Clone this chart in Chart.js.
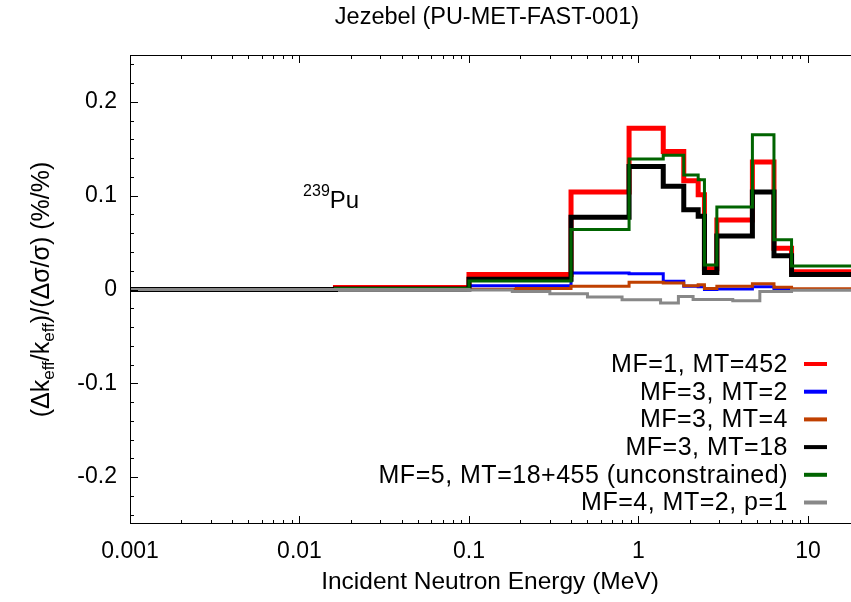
<!DOCTYPE html>
<html><head><meta charset="utf-8">
<script src="https://cdn.jsdelivr.net/npm/chart.js@4/dist/chart.umd.min.js"></script>
<style>html,body{margin:0;padding:0;background:#fff;overflow:hidden;width:851px;height:602px}canvas{display:block}</style>
</head><body>
<canvas id="c" width="860" height="602"></canvas>
<script>
// ---- data ----
const titleText = 'Jezebel (PU-MET-FAST-001)';
const xTitle = 'Incident Neutron Energy (MeV)';
const xTickValues = [0.001, 0.01, 0.1, 1, 10];
const xTickLabels = ['0.001', '0.01', '0.1', '1', '10'];
const yTickValues = [-0.2, -0.1, 0, 0.1, 0.2];
const yTickLabels = ['-0.2', '-0.1', '0', '0.1', '0.2'];

// energy group boundaries (MeV)
const groupEdges = [0.0001, 0.0163, 0.1, 0.19, 0.4, 0.88, 1.4, 1.85, 2.25, 2.45, 2.9, 4.7, 6.3, 8, 20];
const mt452 = [0, 0.002, 0.016, 0.016, 0.104, 0.172, 0.147, 0.116, 0.101, 0.022, 0.074, 0.136, 0.044, 0.019];
const mt2   = [0, 0.0003, 0.004, 0.004, 0.0177, 0.0167, 0.0088, 0.0035, 0.003, 0, 0.0005, 0.003, 0.0005, 0];
const mt4   = [0, 0.0003, 0.0003, 0.001, 0.0035, 0.0078, 0.007, 0.004, 0.005, 0.001, 0.0035, 0.006, 0.0025, 0.0008];
const mt18  = [0, 0.0005, 0.011, 0.011, 0.077, 0.131, 0.110, 0.085, 0.078, 0.018, 0.057, 0.104, 0.036, 0.016];
const mf5   = [0, 0.001, 0.009, 0.009, 0.064, 0.139, 0.143, 0.122, 0.117, 0.026, 0.088, 0.165, 0.053, 0.025];
const mf4Edges = [0.0001, 0.0163, 0.1, 0.18, 0.3, 0.5, 0.8, 1.35, 1.72, 2.1, 3.6, 5.2, 8, 20];
const mf4   = [0, 0, -0.0005, -0.002, -0.0045, -0.008, -0.011, -0.0145, -0.0075, -0.0106, -0.012, -0.002, -0.0008];

const seriesNames = ['MF=1, MT=452', 'MF=3, MT=2', 'MF=3, MT=4', 'MF=3, MT=18', 'MF=5, MT=18+455 (unconstrained)', 'MF=4, MT=2, p=1'];
const seriesColors = ['#ff0000', '#0000ff', '#c04000', '#000000', '#006400', '#888888'];
const seriesWidths = [5, 3, 3, 5, 3, 3];

const nuclideMass = '239';
const nuclideSym = 'Pu';
const nuclideAtE = 0.0105, nuclideAtV = 0.087;

const FONT = '"Liberation Sans", Arial, Helvetica, sans-serif';
const FS = 23;

function stepPoints(edges, vals) {
  const pts = vals.map((v, i) => ({x: edges[i], y: v}));
  pts.push({x: edges[edges.length - 1], y: vals[vals.length - 1]});
  return pts;
}
const seriesData = [
  stepPoints(groupEdges, mt452),
  stepPoints(groupEdges, mt2),
  stepPoints(groupEdges, mt4),
  stepPoints(groupEdges, mt18),
  stepPoints(groupEdges, mf5),
  stepPoints(mf4Edges, mf4)
];

const datasets = seriesData.map((d, i) => ({
  label: seriesNames[i],
  data: d,
  borderColor: seriesColors[i],
  backgroundColor: seriesColors[i],
  borderWidth: seriesWidths[i],
  stepped: 'before',
  pointRadius: 0,
  tension: 0,
  fill: false,
  clip: 0,
  borderJoinStyle: 'miter',
  borderCapStyle: 'butt',
  order: seriesNames.length - i
}));

const decorations = {
  id: 'decorations',
  afterDraw(chart) {
    const {ctx, chartArea: a, scales: {x, y}} = chart;
    ctx.save();
    ctx.strokeStyle = '#000';
    ctx.lineWidth = 1;
    ctx.strokeRect(a.left + 0.5, a.top + 0.5, a.right - a.left - 1, a.bottom - a.top - 1);
    ctx.beginPath();
    for (let d = -3; d <= 1; d++) {
      for (let m = 1; m <= 9; m++) {
        const v = m * Math.pow(10, d);
        if (v < x.min || v > x.max) continue;
        const px = Math.round(x.getPixelForValue(v)) + 0.5;
        const len = m === 1 ? 8 : 4;
        ctx.moveTo(px, a.bottom); ctx.lineTo(px, a.bottom - len);
        ctx.moveTo(px, a.top); ctx.lineTo(px, a.top + len);
      }
    }
    for (let k = -12; k <= 12; k++) {
      const v = k * 0.02;
      const py = Math.round(y.getPixelForValue(v)) + 0.5;
      const len = (k % 5 === 0) ? 8 : 4;
      ctx.moveTo(a.left, py); ctx.lineTo(a.left + len, py);
      ctx.moveTo(a.right, py); ctx.lineTo(a.right - len, py);
    }
    ctx.stroke();

    ctx.fillStyle = '#000';
    // title
    ctx.font = '23.5px ' + FONT;
    ctx.textAlign = 'center';
    ctx.textBaseline = 'middle';
    ctx.fillText(titleText, 487, 18);
    // x title
    ctx.font = '24.5px ' + FONT;
    ctx.fillText(xTitle, 490, 582);

    // y axis title with subscripts
    const parts = [['(\u0394k', 0], ['eff', 1], ['/k', 0], ['eff', 1], [')/(\u0394\u03c3/\u03c3) (%/%)', 0]];
    const mainFS = 25, subFS = 17;
    let total = 0;
    parts.forEach(p => { ctx.font = (p[1] ? subFS : mainFS) + 'px ' + FONT; total += ctx.measureText(p[0]).width; });
    ctx.translate(40, (a.top + a.bottom) / 2);
    ctx.rotate(-Math.PI / 2);
    ctx.textBaseline = 'alphabetic';
    ctx.textAlign = 'left';
    let cx = -total / 2;
    parts.forEach(p => {
      ctx.font = (p[1] ? subFS : mainFS) + 'px ' + FONT;
      ctx.fillText(p[0], cx, 9 + (p[1] ? 5 : 0));
      cx += ctx.measureText(p[0]).width;
    });
    ctx.setTransform(1, 0, 0, 1, 0, 0);

    // nuclide label
    const nx = x.getPixelForValue(nuclideAtE), ny = y.getPixelForValue(nuclideAtV);
    ctx.font = '16px ' + FONT;
    ctx.fillText(nuclideMass, nx, ny - 12);
    const w = ctx.measureText(nuclideMass).width;
    ctx.font = '24px ' + FONT;
    ctx.fillText(nuclideSym, nx + w, ny);

    // legend
    const rowY0 = 364, rowDy = 27.7, textRight = 788, sx0 = 804, sx1 = 827;
    ctx.textAlign = 'right';
    ctx.textBaseline = 'middle';
    try { ctx.letterSpacing = '0.5px'; } catch (e) {}
    seriesNames.forEach((n, i) => {
      const ry = rowY0 + i * rowDy;
      ctx.fillStyle = '#000';
      ctx.font = '25px ' + FONT;
      ctx.fillText(n, textRight, ry + 1);
      ctx.beginPath();
      ctx.strokeStyle = seriesColors[i];
      ctx.lineWidth = 4;
      ctx.moveTo(sx0, ry); ctx.lineTo(sx1, ry);
      ctx.stroke();
    });
    ctx.restore();
  }
};

new Chart(document.getElementById('c'), {
  type: 'line',
  data: {datasets},
  plugins: [decorations],
  options: {
    responsive: false,
    animation: false,
    devicePixelRatio: 1,
    layout: {padding: {top: 55, right: 1, bottom: 0, left: 0}},
    plugins: {
      legend: {display: false},
      tooltip: {enabled: false},
      title: {display: false}
    },
    scales: {
      x: {
        type: 'logarithmic', min: 0.001, max: 20,
        grid: {display: false, drawTicks: false},
        border: {display: false},
        afterBuildTicks: s => { s.ticks = xTickValues.map(v => ({value: v})); },
        afterFit: s => { s.height = 78; },
        ticks: {
          color: '#000', font: {family: FONT, size: FS}, padding: 14, maxRotation: 0, autoSkip: false,
          callback: (v) => { const i = xTickValues.findIndex(t => Math.abs(t - v) < t * 1e-6); return i >= 0 ? xTickLabels[i] : ''; }
        },
        title: {display: false}
      },
      y: {
        type: 'linear', min: -0.25, max: 0.25,
        grid: {display: false, drawTicks: false},
        border: {display: false},
        afterBuildTicks: s => { s.ticks = yTickValues.map(v => ({value: v})); },
        afterFit: s => { s.width = 130; },
        ticks: {
          color: '#000', font: {family: FONT, size: FS}, padding: 13, autoSkip: false,
          callback: (v) => { const i = yTickValues.findIndex(t => Math.abs(t - v) < 1e-9); return i >= 0 ? yTickLabels[i] : ''; }
        }
      }
    }
  }
});
</script>
</body></html>
